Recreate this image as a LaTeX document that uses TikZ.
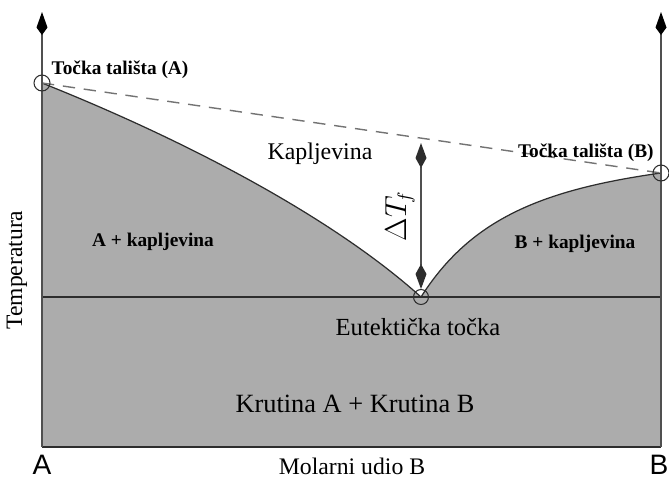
\documentclass[tikz,border=0pt]{standalone}
\usepackage{fontspec}
\setmainfont{Liberation Serif}
\newfontfamily\axisfont{Liberation Sans}
\usetikzlibrary{arrows.meta,positioning}
\definecolor{phase}{RGB}{172,172,172}
\definecolor{edge}{RGB}{45,45,45}
\definecolor{axisgray}{RGB}{80,80,80}
\definecolor{dashgray}{RGB}{115,115,115}
\tikzstyle{axis} = [line width=0.9pt, draw=axisgray,
  -{Kite[length=4.6mm,width=2.2mm,inset=1.5mm,fill=black,color=black]}]
\tikzstyle{curve} = [line width=0.7pt, draw=edge]
\tikzstyle{mark circle} = [circle, draw=edge, line width=0.6pt,
  minimum size=3.2mm, inner sep=0pt]
\tikzstyle{smalllabel} = [inner sep=0pt, font=\fontsize{11}{13}\selectfont\bfseries]
\tikzstyle{biglabel} = [inner sep=0pt, font=\fontsize{14}{16}\selectfont]

\begin{document}
\begin{tikzpicture}[x=0.02cm, y=-0.02cm]
    \useasboundingbox (0,0) rectangle (669,481);

    \coordinate (A) at (42,447);
    \coordinate (B) at (661,447);
    \coordinate (Atop) at (42,12);
    \coordinate (Btop) at (661,12);
    \coordinate (TA) at (42,83);
    \coordinate (TB) at (661,173);
    \coordinate (E) at (421,297);
    \coordinate (EA) at (42,297);
    \coordinate (EB) at (661,297);

    % phase regions
    \fill[phase] (A) -- (TA) .. controls (180,138) and (330,215) .. (E)
      .. controls (470,220) and (540,190) .. (TB) -- (B) -- cycle;
    \draw[curve] (TA) .. controls (180,138) and (330,215) .. (E)
      .. controls (470,220) and (540,190) .. (TB);
    \draw[curve] (EA) -- (EB);
    \draw[curve] (A) -- (B);
    \draw[dashed, dash pattern=on 7pt off 5pt, line width=0.8pt,
      draw=dashgray] (TA) -- (TB);

    \draw[axis] (A) -- (Atop);
    \draw[axis] (B) -- (Btop);

    \node[mark circle] (TAc) at (TA) {};
    \node[mark circle] (TBc) at (TB) {};
    \node[mark circle, minimum size=3mm] (Ec) at (E) {};

    % freezing point depression
    \coordinate (dTtop) at (421,143);
    \coordinate (dTbot) at (421,289);
    \draw[line width=0.8pt, draw=axisgray,
      {Kite[length=5mm,width=2.2mm,inset=2mm,fill=edge,color=edge]}-{Kite[length=5mm,width=2.2mm,inset=2mm,fill=edge,color=edge]}]
      (dTtop) -- (dTbot);
    \node[rotate=90, inner sep=0pt, font=\fontsize{16}{18}\selectfont]
      (dT) at (400,216) {$\Delta T_{\!f}$};

    \node[smalllabel] (TAlab) at (120,70) {Točka tališta (A)};
    \node[smalllabel, anchor=east] (TBlab) at (654,153) {Točka tališta (B)};
    \node[biglabel, font=\fontsize{13.6}{16}\selectfont] (liq) at (320,154) {Kapljevina};
    \node[smalllabel] (Aliq) at (153,242) {A + kapljevina};
    \node[smalllabel] (Bliq) at (575,244) {B + kapljevina};
    \node[biglabel] (eut) at (418,327) {Eutektička točka};
    \node[biglabel, font=\fontsize{15}{17}\selectfont] (sol) at (355,404) {Krutina A + Krutina B};

    \node[inner sep=0pt, font=\fontsize{13.5}{16}\selectfont] (xlab) at (352,466) {Molarni udio B};
    \node[rotate=90, inner sep=0pt, font=\fontsize{13.4}{16}\selectfont] (ylab) at (17,270) {Temperatura};
    \node[inner sep=0pt, font=\axisfont\fontsize{16}{18}\selectfont] (Alab) at (42,465) {A};
    \node[inner sep=0pt, font=\axisfont\fontsize{16}{18}\selectfont] (Blab) at (659,465) {B};
\end{tikzpicture}
\end{document}
